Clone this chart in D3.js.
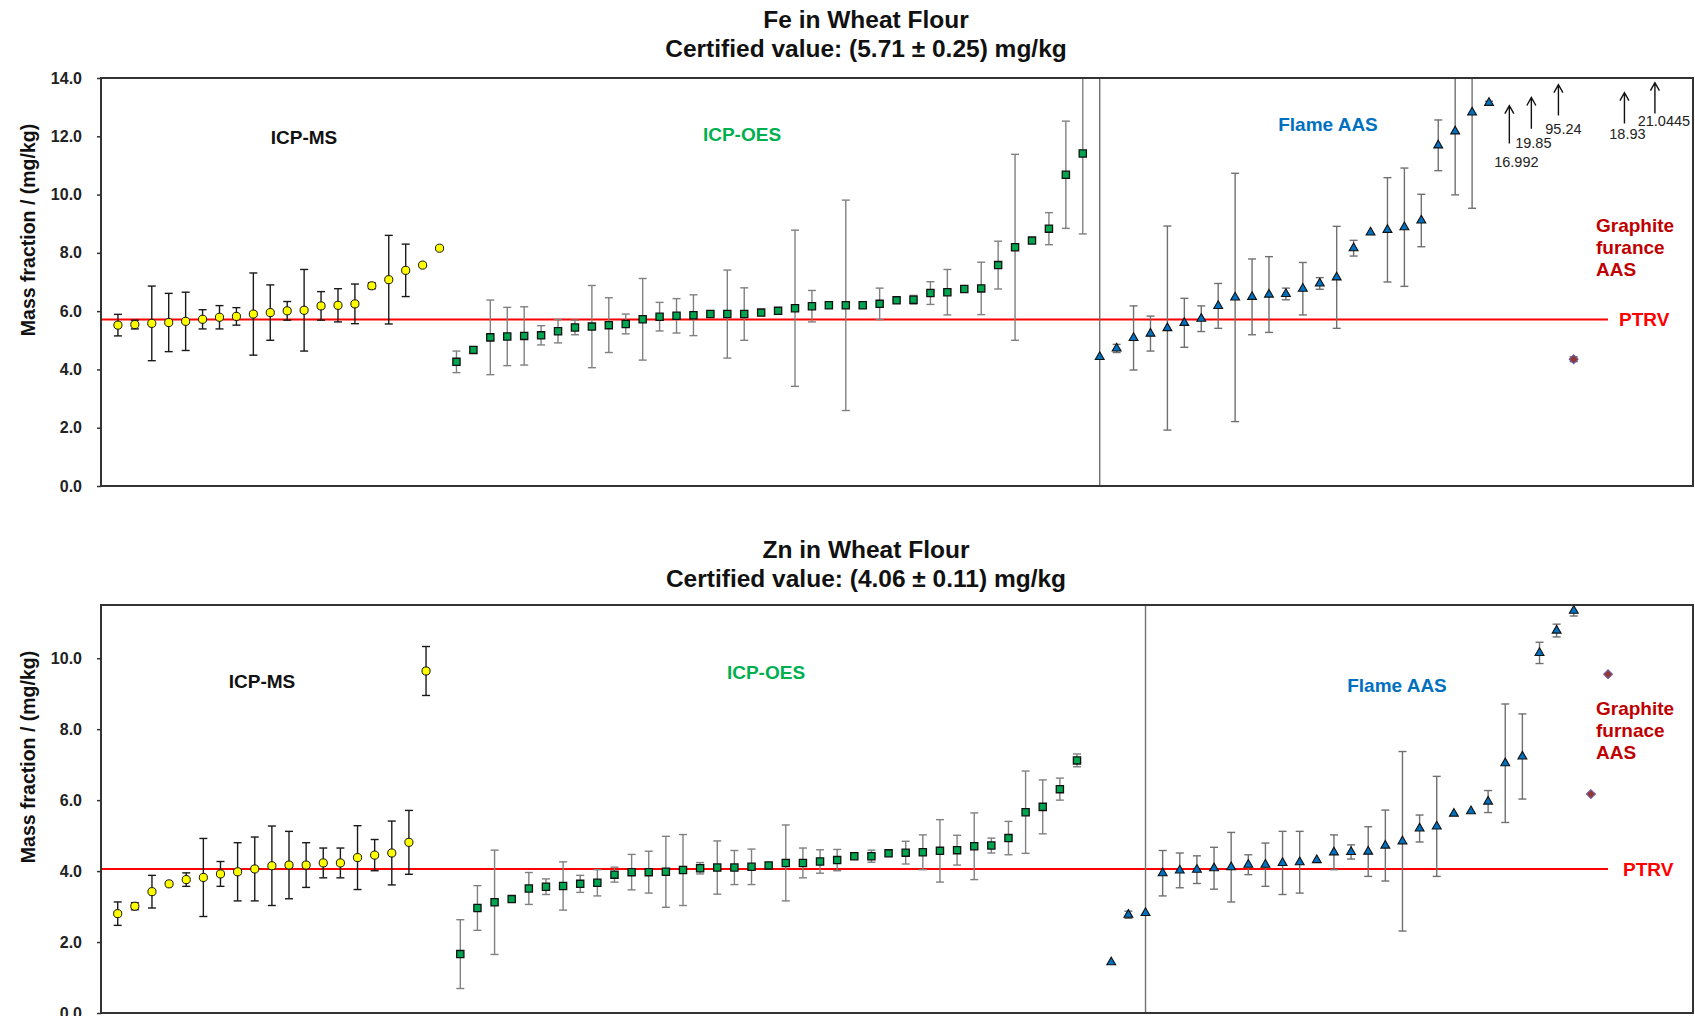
<!DOCTYPE html>
<html>
<head>
<meta charset="utf-8">
<script src="https://cdn.jsdelivr.net/npm/d3@7"></script>
<style>
  body { margin: 0; background: #fff; }
  text { font-family: Arial, "Liberation Sans", sans-serif; }
</style>
</head>
<body>
<div id="chart"></div>
<script>
// ---------------- data (mg/kg), results sorted inside each method ----------------
// Fe
var feMsVal  = [5.52, 5.54, 5.58, 5.61, 5.65, 5.72, 5.79, 5.82, 5.90, 5.95, 6.01, 6.03, 6.18, 6.20, 6.25, 6.87, 7.08, 7.40, 7.58, 8.16];
var feMsUnc  = [0.37, 0.15, 1.28, 1.00, 1.00, 0.33, 0.40, 0.30, 1.41, 0.95, 0.32, 1.40, 0.49, 0.57, 0.68, 0.10, 1.52, 0.90, 0, 0];
var feOesVal = [4.26, 4.67, 5.10, 5.13, 5.15, 5.17, 5.31, 5.44, 5.47, 5.52, 5.56, 5.72, 5.81, 5.84, 5.86, 5.90, 5.90, 5.90, 5.95, 6.01,
                6.10, 6.17, 6.20, 6.20, 6.20, 6.25, 6.37, 6.39, 6.62, 6.65, 6.76, 6.78, 7.58, 8.19, 8.42, 8.83, 10.68, 11.41];
var feOesUnc = [0.37, 0.10, 1.28, 1.00, 1.00, 0.33, 0.40, 0.25, 1.41, 0.94, 0.34, 1.40, 0.49, 0.59, 0.70, 0.05, 1.51, 0.90, 0, 0,
                2.68, 0.54, 0.10, 3.61, 0.10, 0.54, 0, 0.15, 0.39, 0.78, 0, 0.90, 0.82, 3.19, 0, 0.55, 1.84, 2.76];
var feFlameVal = [4.43, 4.72, 5.08, 5.23, 5.42, 5.60, 5.74, 6.18, 6.47, 6.49, 6.57, 6.59, 6.77, 6.95, 7.16, 8.16, 8.70, 8.79, 8.88, 9.11,
                  11.69, 12.17, 12.82, 13.15];
var feFlameUnc = [10, 0.14, 1.10, 0.60, 3.50, 0.84, 0.44, 0.77, 4.26, 1.30, 1.30, 0.20, 0.90, 0.20, 1.75, 0.27, 0, 1.79, 2.03, 0.90,
                  0.87, 2.18, 3.29, 0.05];
var feGfVal  = [4.35];
var feGfUnc  = [0.08];
var feGfSlot = [86];
// results that are off the scale, shown as arrows
var feOffScale = ["16.992", "19.85", "95.24", "18.93", "21.0445"];

// Zn
var znMsVal  = [2.80, 3.01, 3.42, 3.64, 3.76, 3.82, 3.92, 3.98, 4.06, 4.15, 4.17, 4.17, 4.23, 4.23, 4.38, 4.45, 4.51, 4.81, 9.64];
var znMsUnc  = [0.33, 0.10, 0.46, 0, 0.19, 1.10, 0.35, 0.82, 0.90, 1.12, 0.95, 0.63, 0.42, 0.42, 0.90, 0.44, 0.90, 0.90, 0.69];
var znOesVal = [1.66, 2.96, 3.12, 3.21, 3.51, 3.56, 3.58, 3.64, 3.67, 3.90, 3.97, 3.97, 3.98, 4.03, 4.08, 4.10, 4.10, 4.12, 4.16, 4.23,
                4.23, 4.27, 4.31, 4.42, 4.42, 4.50, 4.52, 4.53, 4.57, 4.59, 4.70, 4.72, 4.93, 5.66, 5.81, 6.31, 7.12];
var znOesUnc = [0.97, 0.63, 1.47, 0, 0.45, 0.22, 0.68, 0.24, 0.37, 0.21, 0.50, 0.59, 1.00, 1.00, 0.16, 0.75, 0.48, 0.50, 0, 1.07,
                0.42, 0.33, 0.30, 0, 0.17, 0, 0.32, 0.49, 0.88, 0.42, 0.94, 0.21, 0.47, 1.16, 0.76, 0.31, 0.18];
var znFlameVal = [1.43, 2.77, 2.82, 3.94, 4.02, 4.04, 4.08, 4.11, 4.18, 4.18, 4.23, 4.25, 4.31, 4.53, 4.54, 4.55, 4.72, 4.84, 5.20, 5.26,
                  5.62, 5.69, 5.96, 7.04, 7.23, 10.15, 10.78, 11.34];
var znFlameUnc = [0, 0.10, 12, 0.64, 0.49, 0.39, 0.59, 0.98, 0.28, 0.61, 0.89, 0.87, 0, 0.49, 0.20, 0.70, 1.00, 2.53, 0.38, 1.41,
                  0, 0, 0.31, 1.67, 1.20, 0.30, 0.18, 0.15];
var znGfVal  = [6.17, 9.55];
var znGfUnc  = [0, 0];
var znGfSlot = [86, 87];

// lab slot where each method block starts
var msStart = 0, oesStart = 20, flameStart = 58;

var feTicks = [0, 2, 4, 6, 8, 10, 12, 14];
var znTicks = [0, 2, 4, 6, 8, 10];

// ---------------- drawing ----------------
var svg = d3.select("#chart").append("svg")
  .attr("width", 1695)
  .attr("height", 1016);

var plotLeft = 101, plotRight = 1693;

function rows(vals, uncs, start, slots) {
  return vals.map(function(v, i) {
    return { slot: slots ? slots[i] : start + i, val: v, unc: uncs[i] };
  });
}

function drawPanel(p) {
  var g = svg.append("g");

  var x = d3.scaleLinear().domain(p.xDomain).range([plotLeft, plotRight]);
  var y = d3.scaleLinear().domain(p.yDomain).range([p.bottom, p.top]);

  // titles
  g.append("text")
    .attr("x", 866).attr("y", p.titleY)
    .attr("text-anchor", "middle")
    .style("font-size", "24.5px").style("font-weight", "bold").style("fill", "#111")
    .text(p.title);
  g.append("text")
    .attr("x", 866).attr("y", p.titleY + 29)
    .attr("text-anchor", "middle")
    .style("font-size", "24.5px").style("font-weight", "bold").style("fill", "#111")
    .text(p.subtitle);

  var clipId = "clip-" + p.id;
  svg.append("clipPath").attr("id", clipId)
    .append("rect")
    .attr("x", plotLeft).attr("y", p.top)
    .attr("width", plotRight - plotLeft).attr("height", p.bottom - p.top);

  // y axis
  var yAxis = g.append("g")
    .attr("transform", `translate(${plotLeft},0)`)
    .call(d3.axisLeft(y).tickValues(p.ticks).tickFormat(d3.format(".1f")).tickSize(4).tickPadding(15));
  yAxis.select(".domain").remove();
  yAxis.selectAll("line").attr("stroke", "#333").attr("stroke-width", 1.5);
  yAxis.selectAll("text")
    .style("font-size", "16px").style("font-weight", "bold").style("fill", "#222")
    .style("font-family", "Arial, 'Liberation Sans', sans-serif");

  g.append("text")
    .attr("transform", `translate(28, ${p.yTitleY}) rotate(-90)`)
    .attr("text-anchor", "middle")
    .attr("dy", "0.35em")
    .style("font-size", "19.5px").style("font-weight", "bold").style("fill", "#111")
    .text("Mass fraction / (mg/kg)");

  // PTRV line
  g.append("line")
    .attr("x1", plotLeft).attr("x2", 1608)
    .attr("y1", y(p.ptrv)).attr("y2", y(p.ptrv))
    .attr("stroke", "#ff0000").attr("stroke-width", 2);
  g.append("text")
    .attr("x", p.ptrvLabelX).attr("y", y(p.ptrv))
    .attr("dy", "0.35em")
    .style("font-size", "19px").style("font-weight", "bold").style("fill", "#ff0000")
    .text("PTRV");

  // error bars (clipped to the frame)
  var errG = g.append("g").attr("clip-path", `url(#${clipId})`);
  p.series.forEach(function(s) {
    var withErr = s.data.filter(d => d.unc > 0);
    var bars = errG.selectAll(null).data(withErr).enter().append("g")
      .attr("stroke", s.errColor).attr("stroke-width", 1.4);
    bars.append("line")
      .attr("x1", d => x(d.slot)).attr("x2", d => x(d.slot))
      .attr("y1", d => y(d.val - d.unc)).attr("y2", d => y(d.val + d.unc));
    bars.append("line")
      .attr("x1", d => x(d.slot) - 4).attr("x2", d => x(d.slot) + 4)
      .attr("y1", d => y(d.val - d.unc)).attr("y2", d => y(d.val - d.unc));
    bars.append("line")
      .attr("x1", d => x(d.slot) - 4).attr("x2", d => x(d.slot) + 4)
      .attr("y1", d => y(d.val + d.unc)).attr("y2", d => y(d.val + d.unc));
  });

  // markers
  p.series.forEach(function(s) {
    g.selectAll(null).data(s.data).enter().append("path")
      .attr("transform", d => `translate(${x(d.slot)},${y(d.val)})` + (s.rotate ? " rotate(45)" : ""))
      .attr("d", d3.symbol().type(s.symbol).size(s.size))
      .attr("fill", s.fill)
      .attr("stroke", s.stroke)
      .attr("stroke-width", s.strokeWidth);
  });

  // frame
  g.append("rect")
    .attr("x", plotLeft).attr("y", p.top)
    .attr("width", plotRight - plotLeft).attr("height", p.bottom - p.top)
    .attr("fill", "none").attr("stroke", "#333").attr("stroke-width", 2);

  // method labels
  p.labels.forEach(function(l) {
    var t = g.append("text")
      .attr("x", l.x).attr("y", l.y)
      .attr("text-anchor", l.anchor || "middle")
      .style("font-size", "19px").style("font-weight", "bold").style("fill", l.color);
    l.lines.forEach(function(line, i) {
      t.append("tspan").attr("x", l.x).attr("dy", i === 0 ? "0.35em" : "22px").text(line);
    });
  });

  // off-scale arrows
  if (p.arrows) {
    p.arrows.forEach(function(a, i) {
      var ax = x(a.slot);
      var tip = y(a.tip), tail = y(a.tail);
      g.append("path")
        .attr("d", `M${ax},${tail}L${ax},${tip}M${ax - 4.5},${tip + 8}L${ax},${tip}L${ax + 4.5},${tip + 8}`)
        .attr("fill", "none").attr("stroke", "#111").attr("stroke-width", 1.4);
      g.append("text")
        .attr("x", ax + a.dx).attr("y", tail + a.dy)
        .attr("text-anchor", "middle")
        .style("font-size", "14.5px").style("fill", "#222")
        .text(p.arrowText[i]);
    });
  }
}

function methodSeries(ms, oes, flame, gf) {
  return [
    { data: ms, symbol: d3.symbolCircle, size: 52, fill: "#ffff00", stroke: "#111", strokeWidth: 1, errColor: "#1a1a1a" },
    { data: oes, symbol: d3.symbolSquare, size: 52, fill: "#00a550", stroke: "#111", strokeWidth: 1.3, errColor: "#808080" },
    { data: flame, symbol: d3.symbolTriangle, size: 34, fill: "#0070c0", stroke: "#111", strokeWidth: 1.1, errColor: "#707070" },
    { data: gf, symbol: d3.symbolSquare, size: 40, fill: "#953735", stroke: "#6a5ca8", strokeWidth: 1, errColor: "#555", rotate: true }
  ];
}

drawPanel({
  id: "fe",
  title: "Fe in Wheat Flour",
  subtitle: "Certified value: (5.71 \u00b1 0.25) mg/kg",
  titleY: 28,
  top: 78, bottom: 486,
  xDomain: [-1, 93.05], yDomain: [0, 14], ticks: feTicks,
  yTitleY: 230,
  ptrv: 5.71, ptrvLabelX: 1619,
  series: methodSeries(
    rows(feMsVal, feMsUnc, msStart),
    rows(feOesVal, feOesUnc, oesStart),
    rows(feFlameVal, feFlameUnc, flameStart),
    rows(feGfVal, feGfUnc, 0, feGfSlot)),
  labels: [
    { x: 304, y: 137, color: "#111", lines: ["ICP-MS"] },
    { x: 742, y: 134, color: "#00b050", lines: ["ICP-OES"] },
    { x: 1328, y: 124, color: "#0070c0", lines: ["Flame AAS"] },
    { x: 1596, y: 225, color: "#c00000", anchor: "start", lines: ["Graphite", "furance", "AAS"] }
  ],
  arrowText: feOffScale,
  arrows: [
    { slot: 82.2, tip: 13.05, tail: 11.75, dx: 7, dy: 23 },
    { slot: 83.5, tip: 13.33, tail: 12.26, dx: 2, dy: 19 },
    { slot: 85.1, tip: 13.77, tail: 12.71, dx: 5, dy: 18 },
    { slot: 89.0, tip: 13.50, tail: 12.44, dx: 3, dy: 16 },
    { slot: 90.8, tip: 13.84, tail: 12.78, dx: 9, dy: 12 }
  ]
});

drawPanel({
  id: "zn",
  title: "Zn in Wheat Flour",
  subtitle: "Certified value: (4.06 \u00b1 0.11) mg/kg",
  titleY: 558,
  top: 605, bottom: 1013,
  xDomain: [-0.975, 91.96], yDomain: [0, 11.5], ticks: znTicks,
  yTitleY: 757,
  ptrv: 4.06, ptrvLabelX: 1623,
  series: methodSeries(
    rows(znMsVal, znMsUnc, msStart),
    rows(znOesVal, znOesUnc, oesStart),
    rows(znFlameVal, znFlameUnc, flameStart),
    rows(znGfVal, znGfUnc, 0, znGfSlot)),
  labels: [
    { x: 262, y: 681, color: "#111", lines: ["ICP-MS"] },
    { x: 766, y: 672, color: "#00b050", lines: ["ICP-OES"] },
    { x: 1397, y: 685, color: "#0070c0", lines: ["Flame AAS"] },
    { x: 1596, y: 708, color: "#c00000", anchor: "start", lines: ["Graphite", "furnace", "AAS"] }
  ]
});
</script>
</body>
</html>
